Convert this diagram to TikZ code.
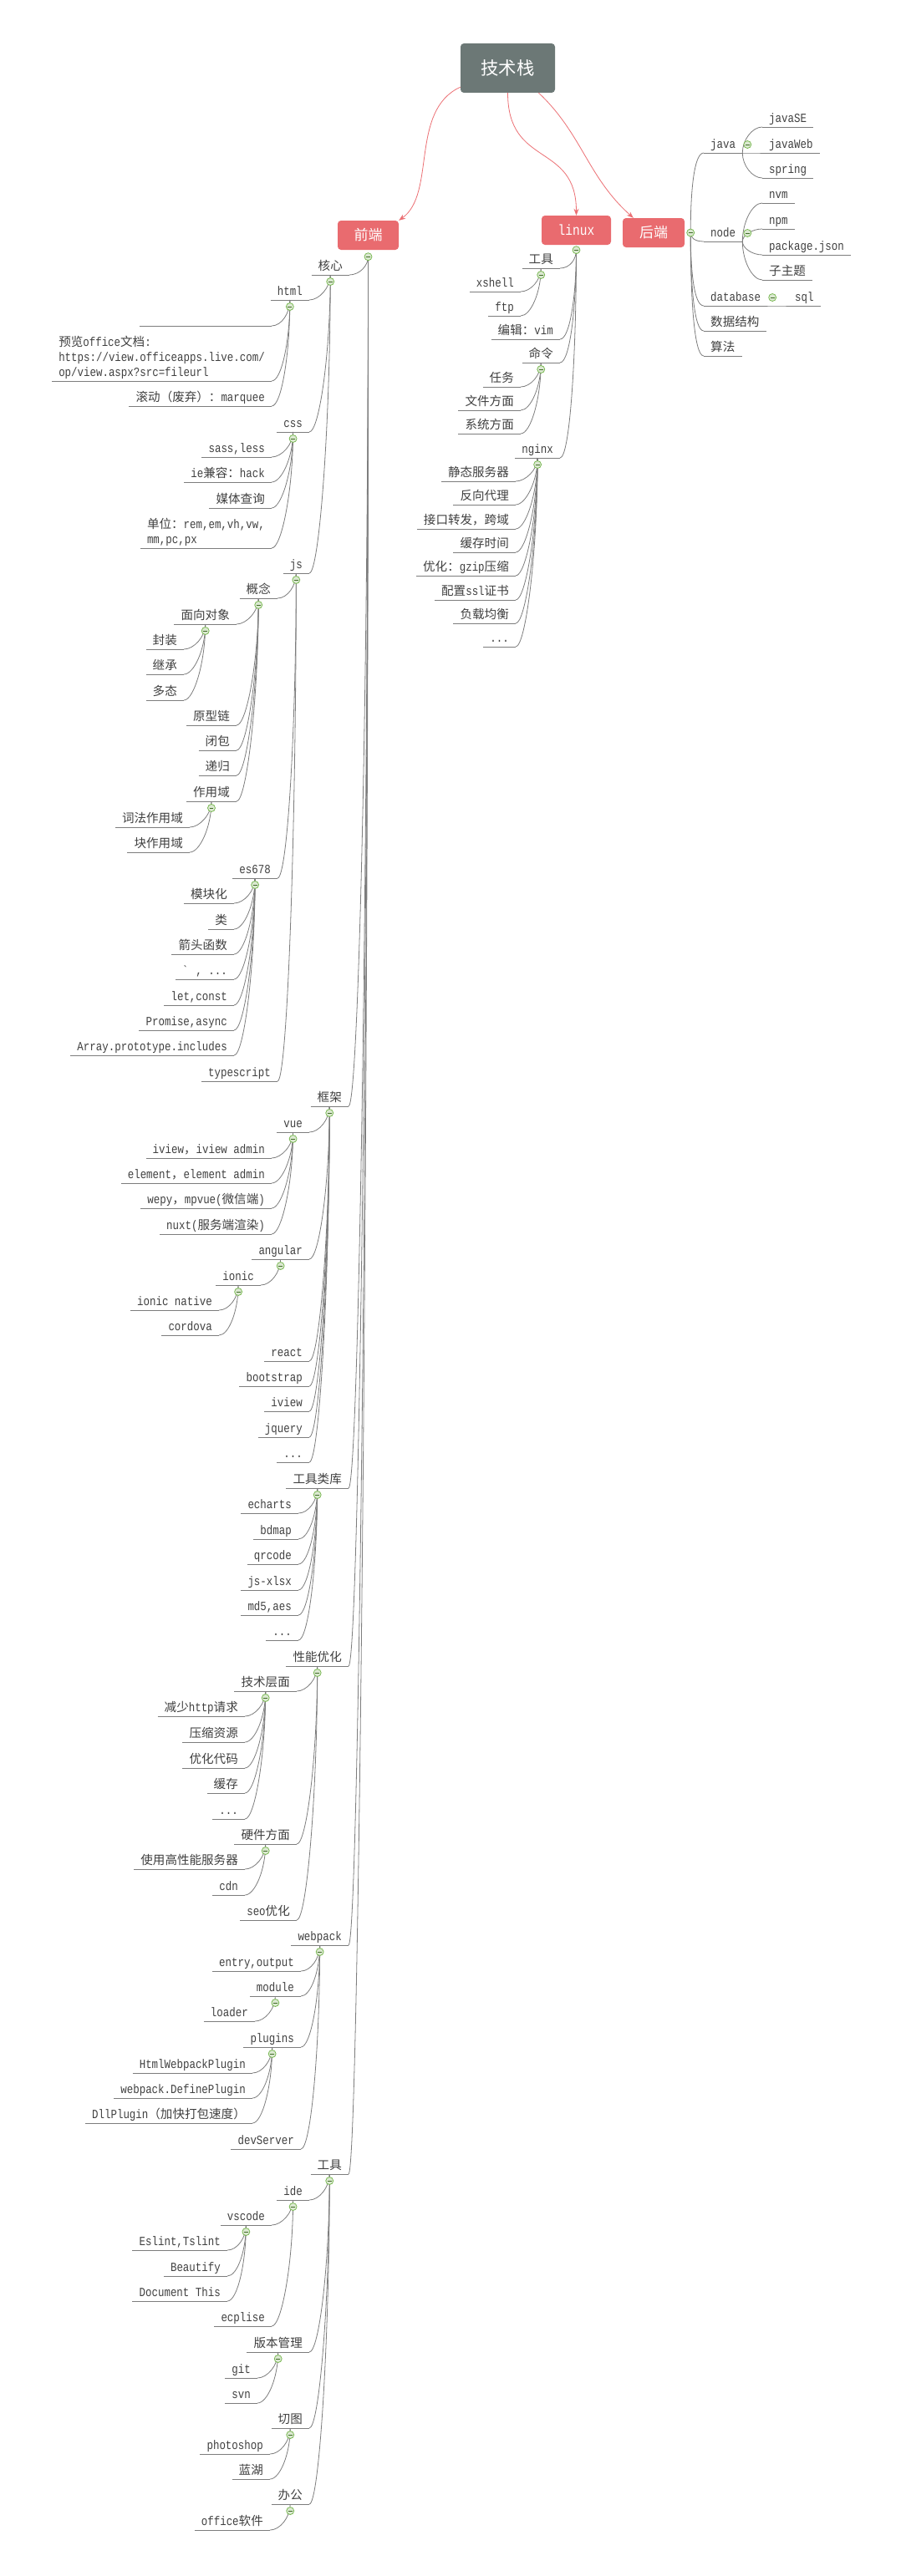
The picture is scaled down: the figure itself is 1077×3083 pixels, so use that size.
\documentclass[tikz,border=0pt]{standalone}
\usepackage{fontspec}
\setmainfont{Liberation Mono}[FakeStretch=0.83]
\newfontfamily\cjk{Noto Sans CJK SC}[Scale=0.97]
\usetikzlibrary{calc,arrows.meta}
\pgfdeclarelayer{bg}
\pgfsetlayers{bg,main}

\definecolor{rootgray}{RGB}{108,120,118}
\definecolor{boxred}{RGB}{233,107,111}
\definecolor{arrred}{RGB}{236,112,116}
\definecolor{linegray}{RGB}{125,125,125}
\definecolor{txtgray}{RGB}{64,64,64}
\definecolor{foldgreen}{RGB}{112,180,70}
\definecolor{foldfill}{RGB}{218,232,208}

% chinese characters are set in the cjk family
\newXeTeXintercharclass\zhclass
\XeTeXinterchartokenstate=1
\makeatletter
\count@="3000
\loop\ifnum\count@<"3040 \XeTeXcharclass\count@=\zhclass \advance\count@\@ne\repeat
\count@="4E00
\loop\ifnum\count@<"A000 \XeTeXcharclass\count@=\zhclass \advance\count@\@ne\repeat
\count@="FF00
\loop\ifnum\count@<"FFF0 \XeTeXcharclass\count@=\zhclass \advance\count@\@ne\repeat
\makeatother
\XeTeXinterchartoks 0 \zhclass = {\cjk}
\XeTeXinterchartoks 4095 \zhclass = {\cjk}
\XeTeXinterchartoks \zhclass 0 = {\rmfamily}

\begin{document}
\begin{tikzpicture}[x=1pt,y=-1pt,font=\fontsize{15}{18}\selectfont,
    topic/.style={inner xsep=8pt,inner ysep=2pt,text height=11pt,text depth=3pt,text=txtgray,
      append after command={(\tikzlastnode.south west) edge[draw=linegray,line width=0.8pt] (\tikzlastnode.south east)}},
    lt/.style={topic,anchor=south east},
    rt/.style={topic,anchor=south west},
    multi/.style={align=left,text height=,text depth=},
    fold/.style={circle,draw=foldgreen,fill=foldfill,line width=0.7pt,minimum size=9pt,inner sep=0pt,
      anchor=center,text height=0pt,text depth=0pt,
      path picture={\draw[foldgreen!60!black,line width=1pt] ([xshift=-2.4pt]path picture bounding box.center) -- ([xshift=2.4pt]path picture bounding box.center);}},
    fl/.style={append after command={node[fold] (\tikzlastnode-f) at ([yshift=-8pt]\tikzlastnode.south) {}}},
    fr/.style={append after command={node[fold] (\tikzlastnode-f) at ([xshift=6pt,yshift=10pt]\tikzlastnode.south east) {}}},
    lk/.style={to path={.. controls ($(\tikztostart|-\tikztotarget)!0.5!(\tikztostart)$) and ($(\tikztotarget)+(12,0)$) .. (\tikztotarget)}},
    rk/.style={to path={.. controls ($(\tikztostart|-\tikztotarget)!0.5!(\tikztostart)$) and ($(\tikztotarget)+(-12,0)$) .. (\tikztotarget)}},
    lnk/.style={draw=linegray,line width=0.8pt},
    hbox/.style={fill=boxred,text=white,rounded corners=4pt,minimum width=73pt,minimum height=35pt,
      font=\fontsize{17.5}{20}\selectfont},
    rootbox/.style={fill=rootgray,text=white,rounded corners=4pt,minimum width=113pt,minimum height=59pt,
      font=\fontsize{22}{26}\selectfont},
    red arrow/.style={draw=arrred,line width=0.8pt,-{Stealth[length=8pt,width=6pt]}}]

\useasboundingbox (0,0) rectangle (1077,3083);

\node[rootbox] (root) at (607.5,81.5) {技术栈};
\node[hbox] (qd) at (440.5,281.5) {前端};
\node[hbox,minimum width=83pt] (lx) at (689.5,275.5) {linux};
\node[hbox,minimum width=74pt] (hd) at (782,278.5) {后端};
\coordinate (qdc) at ([yshift=-8pt]qd.south);
\coordinate (lxc) at ([yshift=-6pt]lx.south);
\coordinate (hdc) at ([xshift=7pt]hd.east);
\node[fold] (qdf) at (qdc) {};
\node[fold] (lxf) at (lxc) {};
\node[fold] (hdf) at (hdc) {};

\draw[red arrow] ([yshift=7pt]root.south west) .. controls +(-61,28) and +(45,-32) .. (qd.north east);
\draw[red arrow] (root.south) .. controls +(0,90) and +(0,-88) .. (lx.north);
\draw[red arrow] ([xshift=37pt]root.south) .. controls +(52,49) and +(-55,-49) .. ([xshift=13pt]hd.north west);

% 前端 / 核心
\node[lt,fl] (hx) at (418,329) {核心};
\node[lt,fl] (html) at (370,359) {html};
\node[lt,minimum width=158pt] (kong) at (325,390) {};
\node[lt,multi] (yl) at (325,456) {预览office文档:\\https://view.officeapps.live.com/\\op/view.aspx?src=fileurl};
\node[lt] (gd) at (325,486) {滚动（废弃）：marquee};
\node[lt,fl] (css) at (370,517) {css};
\node[lt] (sass) at (325,547) {sass,less};
\node[lt] (ie) at (325,577) {ie兼容：hack};
\node[lt] (mt) at (325,608) {媒体查询};
\node[lt,multi] (dw) at (325,656) {单位：rem,em,vh,vw,\\mm,pc,px};
\node[lt,fl] (js) at (370,686) {js};
\node[lt,fl] (gn) at (332,716) {概念};
\node[lt,fl] (mx) at (283,747) {面向对象};
\node[lt] (fz) at (220,777) {封装};
\node[lt] (jc) at (220,807) {继承};
\node[lt] (dt) at (220,838) {多态};
\node[lt] (yx) at (283,868) {原型链};
\node[lt] (bb) at (283,898) {闭包};
\node[lt] (dg) at (283,928) {递归};
\node[lt,fl] (zy) at (283,959) {作用域};
\node[lt] (cf) at (227,990) {词法作用域};
\node[lt] (kzy) at (227,1020) {块作用域};
\node[lt,fl] (es) at (332,1051) {es678};
\node[lt] (mk) at (280,1081) {模块化};
\node[lt] (lei) at (280,1112) {类};
\node[lt] (jt) at (280,1142) {箭头函数};
\node[lt] (mb) at (280,1172) {\textasciigrave{} , ...};
\node[lt] (letc) at (280,1203) {let,const};
\node[lt] (pro) at (280,1233) {Promise,async};
\node[lt] (arr) at (280,1263) {Array.prototype.includes};
\node[lt] (ts) at (332,1294) {typescript};

% 框架
\node[lt,fl] (kj) at (417,1324) {框架};
\node[lt,fl] (vue) at (370,1355) {vue};
\node[lt] (iv) at (325,1386) {iview，iview admin};
\node[lt] (el) at (325,1416) {element，element admin};
\node[lt] (wepy) at (325,1446) {wepy，mpvue(微信端)};
\node[lt] (nuxt) at (325,1477) {nuxt(服务端渲染)};
\node[lt,fl] (ng) at (370,1507) {angular};
\node[lt,fl] (ionic) at (312,1538) {ionic};
\node[lt] (inat) at (262,1568) {ionic native};
\node[lt] (cord) at (262,1598) {cordova};
\node[lt] (react) at (370,1629) {react};
\node[lt] (bs) at (370,1659) {bootstrap};
\node[lt] (iview) at (370,1689) {iview};
\node[lt] (jq) at (370,1720) {jquery};
\node[lt] (kjm) at (370,1750) {...};

% 工具类库
\node[lt,fl] (gjk) at (417,1781) {工具类库};
\node[lt] (ech) at (357,1811) {echarts};
\node[lt] (bd) at (357,1842) {bdmap};
\node[lt] (qr) at (357,1872) {qrcode};
\node[lt] (xlsx) at (357,1903) {js-xlsx};
\node[lt] (md) at (357,1933) {md5,aes};
\node[lt] (gjm) at (357,1963) {...};

% 性能优化
\node[lt,fl] (xn) at (417,1994) {性能优化};
\node[lt,fl] (jscm) at (355,2024) {技术层面};
\node[lt] (http) at (293,2054) {减少http请求};
\node[lt] (ys) at (293,2085) {压缩资源};
\node[lt] (dm) at (293,2116) {优化代码};
\node[lt] (hc) at (293,2146) {缓存};
\node[lt] (jsm) at (293,2177) {...};
\node[lt,fl] (yj) at (355,2207) {硬件方面};
\node[lt] (fwq) at (293,2237) {使用高性能服务器};
\node[lt] (cdn) at (293,2268) {cdn};
\node[lt] (seo) at (355,2298) {seo优化};

% webpack
\node[lt,fl] (wp) at (417,2328) {webpack};
\node[lt] (entry) at (360,2359) {entry,output};
\node[lt,fl] (mod) at (360,2389) {module};
\node[lt] (loader) at (305,2419) {loader};
\node[lt,fl] (plug) at (360,2450) {plugins};
\node[lt] (hwp) at (302,2481) {HtmlWebpackPlugin};
\node[lt] (dp) at (302,2511) {webpack.DefinePlugin};
\node[lt] (dll) at (302,2541) {DllPlugin（加快打包速度）};
\node[lt] (dev) at (360,2572) {devServer};

% 工具
\node[lt,fl] (gj) at (417,2602) {工具};
\node[lt,fl] (ide) at (370,2633) {ide};
\node[lt,fl] (vsc) at (325,2663) {vscode};
\node[lt] (esl) at (272,2693) {Eslint,Tslint};
\node[lt] (bea) at (272,2724) {Beautify};
\node[lt] (doc) at (272,2754) {Document This};
\node[lt] (ecl) at (325,2784) {ecplise};
\node[lt,fl] (bbgl) at (370,2815) {版本管理};
\node[lt] (git) at (308,2846) {git};
\node[lt] (svn) at (308,2876) {svn};
\node[lt,fl] (qt) at (370,2906) {切图};
\node[lt] (ps) at (323,2937) {photoshop};
\node[lt] (lh) at (323,2967) {蓝湖};
\node[lt,fl] (bg) at (370,2997) {办公};
\node[lt] (off) at (323,3028) {office软件};

% linux
\node[lt,fl] (lgj) at (670,321) {工具};
\node[lt] (lxsh) at (623,349) {xshell};
\node[lt] (lftp) at (623,378) {ftp};
\node[lt] (lvim) at (670,406) {编辑：vim};
\node[lt,fl] (lml) at (670,434) {命令};
\node[lt] (lrw) at (623,463) {任务};
\node[lt] (lwj) at (623,491) {文件方面};
\node[lt] (lxt) at (623,519) {系统方面};
\node[lt,fl] (lng) at (670,548) {nginx};
\node[lt] (ljt) at (617,576) {静态服务器};
\node[lt] (ldl) at (617,604) {反向代理};
\node[lt] (lky) at (617,633) {接口转发，跨域};
\node[lt] (lhc) at (617,661) {缓存时间};
\node[lt] (lgz) at (617,689) {优化：gzip压缩};
\node[lt] (lssl) at (617,718) {配置ssl证书};
\node[lt] (lfz) at (617,746) {负载均衡};
\node[lt] (lmore) at (617,774) {...};

% 后端
\node[rt,fr] (java) at (842,183) {java};
\node[rt] (jse) at (912,152) {javaSE};
\node[rt] (jweb) at (912,183) {javaWeb};
\node[rt] (spring) at (912,213) {spring};
\node[rt,fr] (node) at (842,289) {node};
\node[rt] (nvm) at (912,243) {nvm};
\node[rt] (npm) at (912,274) {npm};
\node[rt] (pkg) at (912,305) {package.json};
\node[rt] (zzt) at (912,335) {子主题};
\node[rt,fr] (db) at (842,366) {database};
\node[rt] (sql) at (943,366) {sql};
\node[rt] (sjjg) at (842,396) {数据结构};
\node[rt] (sf) at (842,426) {算法};

\begin{pgfonlayer}{bg}
\fill[white] (0,0) rectangle (1077,3083);
\path[lnk] (qdc) edge[lk] (hx.south east) edge[lk] (kj.south east) edge[lk] (gjk.south east)
    edge[lk] (xn.south east) edge[lk] (wp.south east) edge[lk] (gj.south east);
\path[lnk] (hx.south) edge[lk] (html.south east) edge[lk] (css.south east) edge[lk] (js.south east);
\path[lnk] (html.south) edge[lk] (kong.south east) edge[lk] (yl.south east) edge[lk] (gd.south east);
\path[lnk] (css.south) edge[lk] (sass.south east) edge[lk] (ie.south east) edge[lk] (mt.south east)
    edge[lk] (dw.south east);
\path[lnk] (js.south) edge[lk] (gn.south east) edge[lk] (es.south east) edge[lk] (ts.south east);
\path[lnk] (gn.south) edge[lk] (mx.south east) edge[lk] (yx.south east) edge[lk] (bb.south east)
    edge[lk] (dg.south east) edge[lk] (zy.south east);
\path[lnk] (mx.south) edge[lk] (fz.south east) edge[lk] (jc.south east) edge[lk] (dt.south east);
\path[lnk] (zy.south) edge[lk] (cf.south east) edge[lk] (kzy.south east);
\path[lnk] (es.south) edge[lk] (mk.south east) edge[lk] (lei.south east) edge[lk] (jt.south east)
    edge[lk] (mb.south east) edge[lk] (letc.south east) edge[lk] (pro.south east) edge[lk] (arr.south east);
\path[lnk] (kj.south) edge[lk] (vue.south east) edge[lk] (ng.south east) edge[lk] (react.south east)
    edge[lk] (bs.south east) edge[lk] (iview.south east) edge[lk] (jq.south east) edge[lk] (kjm.south east);
\path[lnk] (vue.south) edge[lk] (iv.south east) edge[lk] (el.south east) edge[lk] (wepy.south east)
    edge[lk] (nuxt.south east);
\path[lnk] (ng.south) edge[lk] (ionic.south east);
\path[lnk] (ionic.south) edge[lk] (inat.south east) edge[lk] (cord.south east);
\path[lnk] (gjk.south) edge[lk] (ech.south east) edge[lk] (bd.south east) edge[lk] (qr.south east)
    edge[lk] (xlsx.south east) edge[lk] (md.south east) edge[lk] (gjm.south east);
\path[lnk] (xn.south) edge[lk] (jscm.south east) edge[lk] (yj.south east) edge[lk] (seo.south east);
\path[lnk] (jscm.south) edge[lk] (http.south east) edge[lk] (ys.south east) edge[lk] (dm.south east)
    edge[lk] (hc.south east) edge[lk] (jsm.south east);
\path[lnk] (yj.south) edge[lk] (fwq.south east) edge[lk] (cdn.south east);
\path[lnk] (wp.south) edge[lk] (entry.south east) edge[lk] (mod.south east) edge[lk] (plug.south east)
    edge[lk] (dev.south east);
\path[lnk] (mod.south) edge[lk] (loader.south east);
\path[lnk] (plug.south) edge[lk] (hwp.south east) edge[lk] (dp.south east) edge[lk] (dll.south east);
\path[lnk] (gj.south) edge[lk] (ide.south east) edge[lk] (bbgl.south east) edge[lk] (qt.south east)
    edge[lk] (bg.south east);
\path[lnk] (ide.south) edge[lk] (vsc.south east) edge[lk] (ecl.south east);
\path[lnk] (vsc.south) edge[lk] (esl.south east) edge[lk] (bea.south east) edge[lk] (doc.south east);
\path[lnk] (bbgl.south) edge[lk] (git.south east) edge[lk] (svn.south east);
\path[lnk] (qt.south) edge[lk] (ps.south east) edge[lk] (lh.south east);
\path[lnk] (bg.south) edge[lk] (off.south east);
% linux
\path[lnk] (lxc) edge[lk] (lgj.south east) edge[lk] (lvim.south east) edge[lk] (lml.south east)
    edge[lk] (lng.south east);
\path[lnk] (lgj.south) edge[lk] (lxsh.south east) edge[lk] (lftp.south east);
\path[lnk] (lml.south) edge[lk] (lrw.south east) edge[lk] (lwj.south east) edge[lk] (lxt.south east);
\path[lnk] (lng.south) edge[lk] (ljt.south east) edge[lk] (ldl.south east) edge[lk] (lky.south east)
    edge[lk] (lhc.south east) edge[lk] (lgz.south east) edge[lk] (lssl.south east)
    edge[lk] (lfz.south east) edge[lk] (lmore.south east);
% 后端
\path[lnk] (hdc) edge[rk] (java.south west) edge[rk] (node.south west) edge[rk] (db.south west)
    edge[rk] (sjjg.south west) edge[rk] (sf.south west);
\path[lnk] (java.south east) edge[rk] (jse.south west) edge[rk] (jweb.south west) edge[rk] (spring.south west);
\path[lnk] (node.south east) edge[rk] (nvm.south west) edge[rk] (npm.south west) edge[rk] (pkg.south west)
    edge[rk] (zzt.south west);
\path[lnk] (db.south east) edge[rk] (sql.south west);
\end{pgfonlayer}
\end{tikzpicture}
\end{document}
